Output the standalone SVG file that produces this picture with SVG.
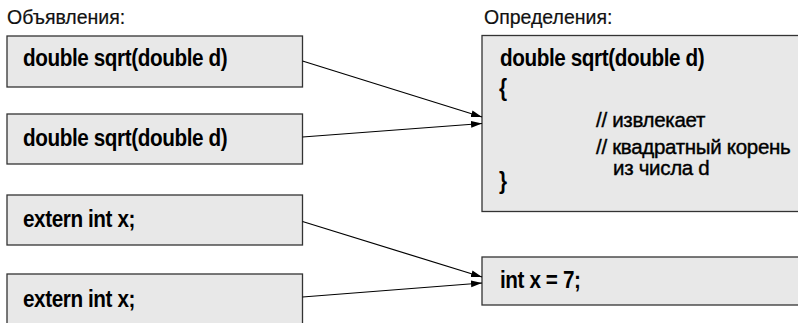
<svg xmlns="http://www.w3.org/2000/svg" width="798" height="323" viewBox="0 0 798 323">
  <style>
    .box { fill: #e8e8e8; stroke: #333333; stroke-width: 1.3; }
    .title { font-family: "Liberation Sans", Arial, sans-serif; font-size: 19.5px; fill: #111111; stroke: #111111; stroke-width: 0.2; }
    .code { font-family: "Liberation Sans", Arial, sans-serif; font-size: 23px; font-weight: bold; fill: #000000; letter-spacing: -0.45px; }
    .note { font-family: "Liberation Sans", Arial, sans-serif; font-size: 20.5px; fill: #000000; stroke: #000000; stroke-width: 0.4; letter-spacing: -0.3px; }
    .link { fill: none; stroke: #000000; stroke-width: 1.2; }
  </style>
  <defs>
    <marker id="arrow" markerWidth="12" markerHeight="8" refX="11" refY="4" orient="auto" markerUnits="userSpaceOnUse">
      <path d="M0,0.5 L11,4 L0,7.5 Z" fill="#000000"/>
    </marker>
  </defs>

  <rect width="798" height="323" fill="#ffffff"/>

  <!-- column headings -->
  <text class="title" x="7" y="24">Объявления:</text>
  <text class="title" x="484" y="24">Определения:</text>

  <!-- declarations (code lines are set slightly condensed) -->
  <g id="decl-sqrt-1">
    <rect class="box" x="7" y="36" width="295.5" height="51"/>
    <text class="code" transform="translate(23 66) scale(0.9 1)">double sqrt(double d)</text>
  </g>
  <g id="decl-sqrt-2">
    <rect class="box" x="7" y="114" width="295.5" height="50"/>
    <text class="code" transform="translate(23 146) scale(0.9 1)">double sqrt(double d)</text>
  </g>
  <g id="decl-x-1">
    <rect class="box" x="7" y="195" width="295.5" height="50"/>
    <text class="code" transform="translate(23 227) scale(0.9 1)">extern int x;</text>
  </g>
  <g id="decl-x-2">
    <rect class="box" x="7" y="274" width="295.5" height="52"/>
    <text class="code" transform="translate(23 307) scale(0.9 1)">extern int x;</text>
  </g>

  <!-- definitions -->
  <g id="def-sqrt">
    <rect class="box" x="482" y="35.5" width="330" height="176"/>
    <text class="code" transform="translate(500 66) scale(0.9 1)">double sqrt(double d)</text>
    <text class="code" transform="translate(499 96) scale(0.9 1)">{</text>
    <text class="note" x="596" y="127">// извлекает</text>
    <text class="note" x="596" y="154">// квадратный корень</text>
    <text class="note" x="613" y="175">из числа d</text>
    <text class="code" transform="translate(499 189) scale(0.9 1)">}</text>
  </g>
  <g id="def-x">
    <rect class="box" x="482" y="257" width="330" height="48"/>
    <text class="code" transform="translate(500 288) scale(0.9 1)">int x = 7;</text>
  </g>

  <!-- connectors -->
  <g id="connectors">
    <line class="link" x1="302.5" y1="61" x2="482" y2="117" marker-end="url(#arrow)"/>
    <line class="link" x1="302.5" y1="137" x2="482" y2="123.5" marker-end="url(#arrow)"/>
    <line class="link" x1="302.5" y1="221.5" x2="482" y2="277" marker-end="url(#arrow)"/>
    <line class="link" x1="302.5" y1="297" x2="482" y2="283" marker-end="url(#arrow)"/>
  </g>
</svg>
